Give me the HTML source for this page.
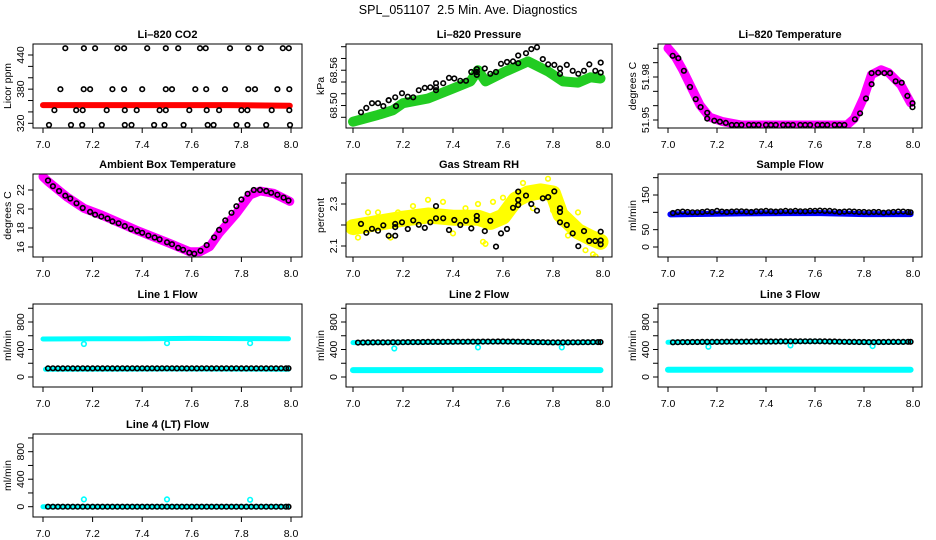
<!DOCTYPE html>
<html><head><meta charset="utf-8"><title>SPL_051107 Diagnostics</title>
<style>
html,body{margin:0;padding:0;background:#fff;}
svg{display:block;font-family:"Liberation Sans",Arial,sans-serif;}
</style></head>
<body>
<svg id="chart" width="936" height="540" viewBox="0 0 936 540" xmlns="http://www.w3.org/2000/svg">
<rect width="936" height="540" fill="#fff"/>
<text x="468" y="14" text-anchor="middle" font-size="12.5">SPL_051107&#160; 2.5 Min. Ave. Diagnostics</text>
</svg>
<script>
// ---------- data ----------
const xTicks = [7.0, 7.2, 7.4, 7.6, 7.8, 8.0];
const tFine = [7.02,7.04,7.06,7.08,7.1,7.12,7.14,7.16,7.18,7.2,7.22,7.24,7.26,7.28,7.3,7.32,7.34,7.36,7.38,7.4,7.42,7.44,7.46,7.48,7.5,7.52,7.54,7.56,7.58,7.6,7.62,7.64,7.66,7.68,7.7,7.72,7.74,7.76,7.78,7.8,7.82,7.84,7.86,7.88,7.9,7.92,7.94,7.96,7.98,7.99];

// Li-820 CO2
const co2X = [7.09,7.165,7.21,7.30,7.327,7.42,7.495,7.545,7.633,7.656,7.754,7.828,7.878,7.967,7.991,
 7.07,7.164,7.19,7.28,7.327,7.40,7.495,7.52,7.614,7.658,7.734,7.828,7.855,7.945,7.993,
 7.046,7.134,7.16,7.257,7.33,7.378,7.47,7.495,7.59,7.66,7.71,7.80,7.824,7.922,7.993,
 7.024,7.113,7.158,7.237,7.33,7.357,7.448,7.49,7.567,7.664,7.688,7.78,7.824,7.90,7.996];
const co2Y = [452,452,452,452,452,452,452,452,452,452,452,452,452,452,452,
 380,380,380,380,380,380,380,380,380,380,380,380,380,380,380,
 343,343,343,343,343,343,343,343,343,343,343,343,343,343,343,
 317,317,317,317,317,317,317,317,317,317,317,317,317,317,317];
const co2BandX = [7.0, 7.25, 7.5, 7.75, 7.995];
const co2BandY = [352, 352, 352, 352, 351];
const co2Ticks = [320,340,360,380,400,420,440];
const co2Labels = ["320","","","380","","","440"];

// Li-820 Pressure
const presX = [7.032,7.053,7.076,7.100,7.121,7.143,7.143,7.169,7.172,7.196,7.219,7.241,7.263,7.287,7.309,7.332,7.332,7.332,7.361,7.384,7.405,7.429,7.452,7.473,7.495,7.495,7.495,7.527,7.549,7.572,7.592,7.616,7.64,7.661,7.661,7.692,7.713,7.736,7.759,7.781,7.805,7.828,7.828,7.855,7.879,7.901,7.924,7.945,7.969,7.991,7.991];
const presY = [68.4885,68.496,68.504,68.504,68.499,68.509,68.509,68.514,68.499,68.521,68.515,68.514,68.526,68.530,68.531,68.531,68.538,68.526,68.538,68.547,68.546,68.542,68.542,68.557,68.552,68.562,68.557,68.563,68.554,68.557,68.571,68.574,68.575,68.585,68.572,68.589,68.596,68.599,68.579,68.570,68.569,68.563,68.554,68.569,68.559,68.554,68.559,68.570,68.559,68.573,68.556];
const presBandX = [7.0,7.1,7.16,7.2,7.3,7.4,7.47,7.5,7.53,7.6,7.7,7.78,7.84,7.9,7.95,7.99];
const presBandY = [68.4725,68.484,68.492,68.504,68.512,68.529,68.541,68.560,68.541,68.556,68.575,68.558,68.541,68.539,68.548,68.546];
const presTicks = [68.48,68.50,68.52,68.54,68.56,68.58,68.60];
const presLabels = ["","68.50","","","68.56","",""];

// Li-820 Temperature
const ltX = [7.019,7.042,7.065,7.09,7.113,7.133,7.16,7.16,7.189,7.212,7.236,
 7.26,7.28,7.30,7.33,7.35,7.37,7.40,7.42,7.44,7.47,7.49,7.51,7.54,7.56,7.58,7.61,7.63,7.65,7.68,7.70,7.72,
 7.763,7.784,7.808,7.831,7.831,7.858,7.883,7.906,7.929,7.954,7.977,7.998,7.998];
const ltY = [51.9948,51.9931,51.9843,51.973,51.9645,51.959,51.955,51.951,51.9495,51.9488,51.948,
 51.9465,51.9465,51.9465,51.9465,51.9465,51.9465,51.9465,51.9465,51.9465,51.9465,51.9465,51.9465,51.9465,51.9465,51.9465,51.9465,51.9465,51.9465,51.9465,51.9465,51.9465,
 51.9505,51.9547,51.965,51.975,51.9827,51.983,51.9827,51.9827,51.977,51.976,51.9668,51.9617,51.9589];
const ltBandX = [7.0,7.03,7.06,7.1,7.13,7.17,7.22,7.3,7.5,7.73,7.76,7.8,7.83,7.87,7.9,7.95,7.99];
const ltBandY = [52.0001,51.994,51.985,51.971,51.9605,51.952,51.949,51.9465,51.9465,51.9465,51.951,51.966,51.9815,51.985,51.983,51.9745,51.962];
const ltTicks = [51.95,51.96,51.97,51.98,51.99,52.00];
const ltLabels = ["51.95","","","51.98","",""];

// Ambient box temperature
const ambX = [7.02,7.04,7.065,7.09,7.11,7.135,7.16,7.19,7.21,7.235,7.26,7.28,7.305,7.33,7.355,7.38,7.4,7.425,7.45,7.47,7.5,7.52,7.545,7.565,7.59,7.61,7.635,7.66,7.69,7.71,7.735,7.76,7.78,7.8,7.825,7.85,7.875,7.9,7.92,7.945,7.97,7.99];
const ambY = [23.0,22.4,21.9,21.4,21.1,20.6,20.1,19.7,19.4,19.2,19.0,18.7,18.5,18.2,17.9,17.7,17.5,17.2,17.0,16.8,16.5,16.3,15.9,15.7,15.4,15.3,15.6,16.2,17.0,17.8,18.8,19.6,20.3,21.0,21.6,22.0,22.0,21.9,21.7,21.5,21.2,20.9];
const ambBandX = [7.0,7.02,7.095,7.165,7.236,7.375,7.51,7.592,7.633,7.672,7.71,7.78,7.835,7.876,7.93,7.995];
const ambBandY = [23.4,22.9,21.3,20.07,19.37,17.79,16.39,15.5,15.5,16.03,17.44,19.54,21.47,21.9,21.65,20.8];
const ambTicks = [16,18,20,22];
const ambLabels = ["16","18","20","22"];

// Gas stream RH
const rhX = [7.032,7.053,7.076,7.1,7.121,7.143,7.169,7.169,7.169,7.196,7.219,7.241,7.263,7.287,7.309,7.332,7.332,7.361,7.384,7.405,7.429,7.452,7.473,7.495,7.495,7.527,7.549,7.572,7.592,7.616,7.64,7.661,7.661,7.661,7.692,7.713,7.736,7.759,7.781,7.805,7.828,7.828,7.828,7.855,7.879,7.901,7.924,7.945,7.969,7.991,7.991,7.991];
const rhY = [2.205,2.163,2.182,2.173,2.198,2.149,2.149,2.205,2.19,2.213,2.181,2.222,2.201,2.186,2.213,2.232,2.29,2.232,2.176,2.224,2.2,2.22,2.184,2.224,2.243,2.171,2.22,2.097,2.16,2.181,2.282,2.319,2.359,2.295,2.34,2.3,2.268,2.327,2.333,2.36,2.28,2.262,2.213,2.2,2.16,2.099,2.171,2.124,2.124,2.108,2.168,2.126];
const rhBandX = [7.0,7.1,7.2,7.3,7.4,7.5,7.55,7.6,7.65,7.7,7.75,7.8,7.83,7.9,7.95,7.99];
const rhBandY = [2.19,2.21,2.23,2.245,2.235,2.235,2.215,2.24,2.32,2.35,2.36,2.35,2.25,2.17,2.14,2.12];
const rhScatX = [7.02,7.06,7.1,7.15,7.18,7.24,7.3,7.36,7.4,7.45,7.5,7.52,7.53,7.56,7.6,7.62,7.68,7.72,7.78,7.8,7.86,7.9,7.93,7.96,7.97];
const rhScatY = [2.14,2.26,2.26,2.14,2.26,2.29,2.32,2.31,2.16,2.28,2.3,2.12,2.11,2.31,2.33,2.29,2.4,2.28,2.42,2.27,2.15,2.26,2.08,2.06,2.05];
const rhTicks = [2.1,2.2,2.3,2.4];
const rhLabels = ["2.1","","2.3",""];

// Sample flow
const sfY = [98,101,102,101,100,100,101,103,101,104,102,101,102,103,103,102,101,103,103,104,103,102,103,104,103,104,103,103,104,104,105,104,104,103,101,102,103,102,101,101,100,101,101,99,100,101,102,102,101,100];
const sfBandX = [7.01,7.3,7.6,7.8,7.99];
const sfBandY = [94,97,98,95,95];
const sfTicks = [0,50,100,150,200];
const sfLabels = ["0","50","","150",""];

// Line flows
const flowTicks = [0,200,400,600,800,1000];
const flowLabels = ["0","","400","","800",""];
const l1Black = [125,126,125,125,126,125,125,126,125,125,126,125,126,125,125,126,125,126,125,126,125,126,125,126,126,126,125,126,125,126,125,126,126,125,126,125,126,125,126,125,125,126,125,126,125,126,125,126,125,126];
const l1HiX = [7.0,7.2,7.4,7.6,7.8,7.99];
const l1HiY = [553,556,557,562,558,556];
const l1LoX = [7.01,7.5,7.99];
const l1LoY = [112,116,114];
const l1OutX = [7.165,7.5,7.835];
const l1OutY = [480,492,492];

const l2Black = [500,502,503,504,505,504,505,506,505,506,507,508,508,509,510,510,511,511,512,512,513,512,513,514,514,515,515,515,516,516,515,515,514,512,510,508,507,506,505,504,504,503,504,505,505,506,506,507,507,508];
const l2HiX = [7.0,7.3,7.6,7.8,7.99];
const l2HiY = [500,505,515,500,505];
const l2LoX = [7.0,7.5,7.99];
const l2LoY = [100,102,100];
const l2OutX = [7.165,7.5,7.835];
const l2OutY = [415,430,430];

const l3Black = [505,506,507,508,509,509,510,510,511,511,512,513,513,514,514,515,515,516,516,517,517,517,518,518,519,519,519,520,520,520,519,518,517,516,514,512,511,510,509,509,508,508,509,509,510,510,511,511,512,512];
const l3HiX = [7.0,7.3,7.6,7.8,7.99];
const l3HiY = [505,510,518,505,510];
const l3LoX = [7.0,7.5,7.99];
const l3LoY = [105,107,105];
const l3OutX = [7.165,7.5,7.835];
const l3OutY = [440,460,450];

const l4Black = [0,0,0,0,0,0,0,0,0,0,0,0,0,0,0,0,0,0,0,0,0,0,0,0,0,0,0,0,0,0,0,0,0,0,0,0,0,0,0,0,0,0,0,0,0,0,0,0,0,0];
const l4BandX = [7.0,7.5,7.99];
const l4BandY = [0,0,0];
const l4OutX = [7.165,7.5,7.835];
const l4OutY = [106,106,100];

// ---------- drawing ----------
const NS = "http://www.w3.org/2000/svg";
const svg = document.getElementById("chart");
const COLS = [{l:33,r:302,x7:43,x8:291},{l:346,r:612,x7:353,x8:603},{l:658,r:922,x7:668,x8:913}];
const ROWS = [{t:44,b:128},{t:174,b:257},{t:304,b:387},{t:434,b:517}];
let clipN = 0;

function el(tag, attrs, parent){
  const e = document.createElementNS(NS, tag);
  for (const k in attrs) e.setAttribute(k, attrs[k]);
  (parent||svg).appendChild(e);
  return e;
}

function makePanel(name, title, ylab, row, col, v1, p1, v2, p2, yTicks, yLabels){
  const c = COLS[col], r = ROWS[row];
  const g = el("g", {});
  
  
  const sx = v => c.x7 + (v - 7) * (c.x8 - c.x7);
  const sy = v => p1 + (v - v1) * (p2 - p1) / (v2 - v1);
  clipN++;
  const cp = el("clipPath", {id: "cp" + clipN}, g);
  el("rect", {x: c.l, y: r.t, width: c.r - c.l, height: r.b - r.t}, cp);
  const plot = el("g", {"clip-path": "url(#cp" + clipN + ")"}, g);
  
  
  const tt = el("text", {x: (c.l + c.r) / 2, y: r.t - 6, "text-anchor": "middle", "font-size": "11", "font-weight": "bold"}, g);
  tt.textContent = title;
  
  
  const xa = el("g", {stroke: "#000", "stroke-width": "1", fill: "none"}, g);
  
  
  el("line", {x1: sx(xTicks[0]), x2: sx(xTicks[xTicks.length-1]), y1: r.b, y2: r.b}, xa);
  xTicks.forEach(v => {
    el("line", {x1: sx(v), x2: sx(v), y1: r.b, y2: r.b + 5}, xa);
    const t = el("text", {x: sx(v), y: r.b + 20, "text-anchor": "middle", "font-size": "10.5", stroke: "none", fill: "#000"}, g);
    t.textContent = v.toFixed(1);
    
    
  });
  const ya = el("g", {stroke: "#000", "stroke-width": "1", fill: "none"}, g);
  
  
  el("line", {x1: c.l, x2: c.l, y1: sy(yTicks[0]), y2: sy(yTicks[yTicks.length-1])}, ya);
  yTicks.forEach((v, i) => {
    el("line", {x1: c.l - 5, x2: c.l, y1: sy(v), y2: sy(v)}, ya);
    if (yLabels[i]) {
      const yy = sy(v);
      const t = el("text", {x: 0, y: 0, transform: "translate(" + (c.l - 9) + "," + yy + ") rotate(-90)", "text-anchor": "middle", "font-size": "10.5", fill: "#000"}, g);
      t.textContent = yLabels[i];
      
      
    }
  });
  const yl = el("text", {x: 0, y: 0, transform: "translate(" + (c.l - 22) + "," + ((r.t + r.b) / 2) + ") rotate(-90)", "text-anchor": "middle", "font-size": "10.5", fill: "#000"}, g);
  yl.textContent = ylab;
  
  
  const bx = el("rect", {x: c.l, y: r.t, width: c.r - c.l, height: r.b - r.t, fill: "none", stroke: "#000", "stroke-width": "1"}, g);
  
  
  return {sx, sy, plot};
}

function band(P, xs, ys, color, w, name){
  const pts = xs.map((x, i) => P.sx(x).toFixed(1) + "," + P.sy(ys[i]).toFixed(1)).join(" ");
  const pl = el("polyline", {points: pts, fill: "none", stroke: color, "stroke-width": w, "stroke-linejoin": "round", "stroke-linecap": "round"}, P.plot);
  
  
}
function points(P, xs, ys, color, name){
  const g = el("g", {fill: "none", stroke: color, "stroke-width": "1.6"}, P.plot);
  
  
  xs.forEach((x, i) => {
    const c = el("circle", {cx: P.sx(x).toFixed(1), cy: P.sy(ys[i]).toFixed(1), r: "2.3"}, g);
    
    
  });
}

let P = makePanel("co2-panel", "Li\u2013820 CO2", "Licor ppm", 0, 0, 440, 55, 320, 123.3, co2Ticks, co2Labels);
band(P, co2BandX, co2BandY, "#ff0000", 6, "co2-fast-series");
points(P, co2X, co2Y, "#000", "co2-average-series");

P = makePanel("pressure-panel", "Li\u2013820 Pressure", "kPa", 0, 1, 68.60, 46.7, 68.48, 117.3, presTicks, presLabels);
band(P, presBandX, presBandY, "#22cc22", 10, "pressure-fast-series");
points(P, presX, presY, "#000", "pressure-average-series");

P = makePanel("licor-temp-panel", "Li\u2013820 Temperature", "degrees C", 0, 2, 51.98, 77, 51.95, 120, ltTicks, ltLabels);
band(P, ltBandX, ltBandY, "#ff00ff", 9, "licor-temp-fast-series");
points(P, ltX, ltY, "#000", "licor-temp-average-series");

P = makePanel("ambient-temp-panel", "Ambient Box Temperature", "degrees C", 1, 0, 22, 190, 16, 247, ambTicks, ambLabels);
band(P, ambBandX, ambBandY, "#ff00ff", 9, "ambient-temp-fast-series");
points(P, ambX, ambY, "#000", "ambient-temp-average-series");

P = makePanel("rh-panel", "Gas Stream RH", "percent", 1, 1, 2.3, 204, 2.1, 246, rhTicks, rhLabels);
band(P, rhBandX, rhBandY, "#ffff00", 16, "rh-fast-series");
points(P, rhScatX, rhScatY, "#ffff00", "rh-fast-scatter");
points(P, rhX, rhY, "#000", "rh-average-series");

P = makePanel("sample-flow-panel", "Sample Flow", "ml/min", 1, 2, 0, 247, 150, 195, sfTicks, sfLabels);
band(P, sfBandX, sfBandY, "#0000ff", 6, "sample-flow-fast-series");
points(P, tFine, sfY, "#000", "sample-flow-average-series");

P = makePanel("line1-flow-panel", "Line 1 Flow", "ml/min", 2, 0, 0, 377, 800, 322, flowTicks, flowLabels);
band(P, l1HiX, l1HiY, "#00ffff", 5, "line1-high-series");
band(P, l1LoX, l1LoY, "#00ffff", 5, "line1-low-series");
points(P, l1OutX, l1OutY, "#00ffff", "line1-outliers");
points(P, tFine, l1Black, "#000", "line1-average-series");

P = makePanel("line2-flow-panel", "Line 2 Flow", "ml/min", 2, 1, 0, 377, 800, 322, flowTicks, flowLabels);
band(P, l2HiX, l2HiY, "#00ffff", 5, "line2-high-series");
band(P, l2LoX, l2LoY, "#00ffff", 6, "line2-low-series");
points(P, l2OutX, l2OutY, "#00ffff", "line2-outliers");
points(P, tFine, l2Black, "#000", "line2-average-series");

P = makePanel("line3-flow-panel", "Line 3 Flow", "ml/min", 2, 2, 0, 377, 800, 322, flowTicks, flowLabels);
band(P, l3HiX, l3HiY, "#00ffff", 5, "line3-high-series");
band(P, l3LoX, l3LoY, "#00ffff", 6, "line3-low-series");
points(P, l3OutX, l3OutY, "#00ffff", "line3-outliers");
points(P, tFine, l3Black, "#000", "line3-average-series");

P = makePanel("line4-flow-panel", "Line 4 (LT) Flow", "ml/min", 3, 0, 0, 506.7, 800, 451.7, flowTicks, flowLabels);
band(P, l4BandX, l4BandY, "#00ffff", 5, "line4-fast-series");
points(P, l4OutX, l4OutY, "#00ffff", "line4-outliers");
points(P, tFine, l4Black, "#000", "line4-average-series");
</script>
</body></html>
